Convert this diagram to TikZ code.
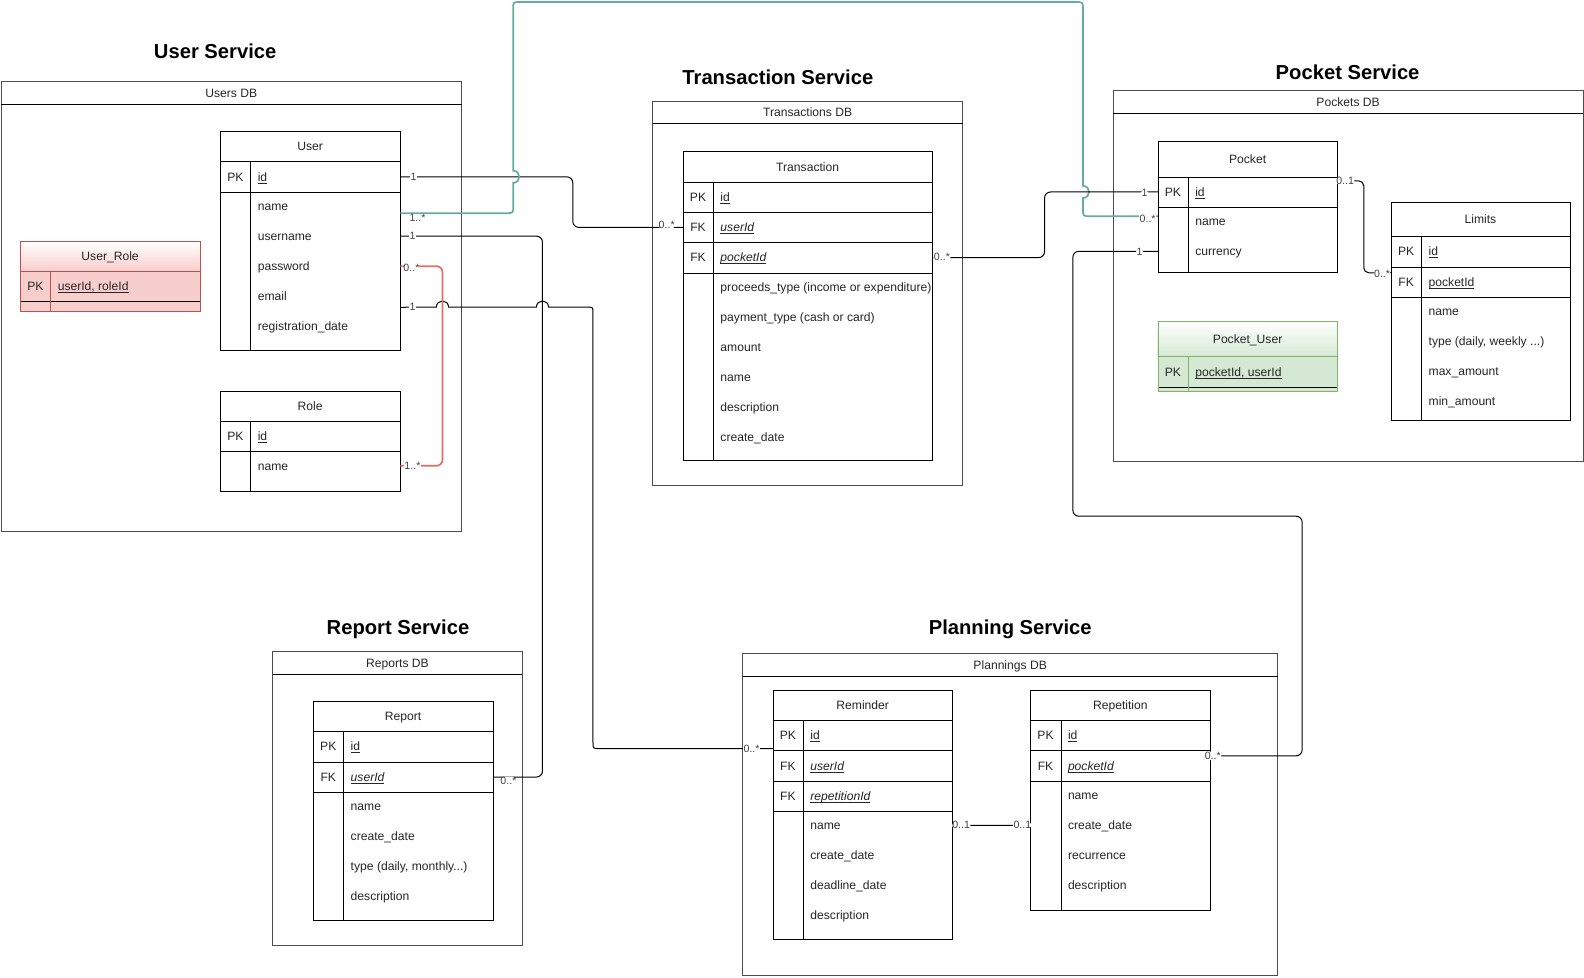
\documentclass[tikz,border=0pt]{standalone}
\usepackage{fontspec}
\setmainfont{Liberation Sans}
\usetikzlibrary{calc}

\definecolor{tealline}{HTML}{67AB9F}
\definecolor{redline}{HTML}{EA6B66}
\definecolor{redfill}{HTML}{F8CECC}
\definecolor{redstroke}{HTML}{B85450}
\definecolor{greenfill}{HTML}{D5E8D4}
\definecolor{greenstroke}{HTML}{82B366}

\newcommand{\keyul}[1]{\setbox0=\hbox{#1}\rlap{\rule[-2pt]{\wd0}{0.6pt}}\box0}
\newcommand{\fkey}[1]{\keyul{\itshape #1}}
\newcommand{\tdots}{...}

\tikzset{
  tbltext/.style={font=\fontsize{12}{14}\selectfont, text=black!85, inner sep=0pt, text height=8.6pt, text depth=0pt},
  tbltitle/.style={tbltext},
  keytxt/.style={tbltext},
  valtxt/.style={tbltext, anchor=west},
  tblrow/.style={inner sep=0pt, minimum height=30pt},
  tblfill/.style={fill=white},
  tblshade/.style={},
  tblline/.style={draw=black},
  sepline/.style={draw=black},
  dbline/.style={draw=black!70, line width=1pt},
  dbsep/.style={draw=black, line width=0.8pt},
  dbtitle/.style={tbltext},
  svctitle/.style={font=\bfseries\fontsize{20}{24}\selectfont, inner sep=0pt, text height=14.4pt, text depth=0pt},
  conn/.style={draw=black, line width=1pt, rounded corners=6pt},
  tealconn/.style={draw=tealline, line width=1.7pt},
  redconn/.style={draw=redline, line width=1.7pt, rounded corners=6pt},
  mult/.style={font=\fontsize{10.5}{12}\selectfont, text=black!75, fill=white, inner sep=0.5pt, text height=7pt, text depth=0.5pt}
}

% table: name, x, y, width, header height, height, title, key rows, fields
\newcommand{\ertable}[9]{%
  \begin{scope}[shift={(#2,#3)}]
    \path[tblfill] (0,0) rectangle (#4,#6);
    \path[tblshade] (0,0) rectangle (#4,#5);
    \node[tbltitle] (#1) at (#4/2,#5/2) {#7};
    \gdef\nkeys{0}
    \foreach \kname/\fname [count=\rowno] in {#8} {
      \node[tblrow, minimum width=#4pt] (#1-k\rowno) at (#4/2,#5+30*\rowno-15) {};
      \node[keytxt] (#1-k\rowno-key) at (15,#5+30*\rowno-15) {\kname};
      \node[valtxt] (#1-k\rowno-val) at (37,#5+30*\rowno-15) {\fname};
      \draw[sepline] (0,#5+30*\rowno) -- (#4,#5+30*\rowno);
      \xdef\nkeys{\rowno}
    }
    \def\erfields{#9}
    \ifx\erfields\empty\else
    \foreach \fname [count=\fldno] in {#9} {
      \node[tblrow, minimum width=#4pt] (#1-f\fldno) at (#4/2,#5+30*\nkeys+14+29.7*\fldno-29.7) {};
      \node[valtxt] (#1-f\fldno-val) at (37,#5+30*\nkeys+14+29.7*\fldno-29.7) {\fname};
    }
    \fi
    \draw[tblline] (30,#5) -- (30,#6);
    \draw[tblline] (0,#5) -- (#4,#5);
    \draw[tblline] (0,0) rectangle (#4,#6);
  \end{scope}}

% database box: name, x, y, width, height, title
\newcommand{\dbbox}[6]{%
  \draw[dbline] (#2,#3) rectangle (#2+#4,#3+#5);
  \draw[dbsep] (#2,#3+22.5) -- (#2+#4,#3+22.5);
  \node[dbtitle] (#1) at (#2+#4/2,#3+11.25) {#6};}

\begin{document}
\begin{tikzpicture}[x=1pt, y=-1pt, scale=1.0102, transform shape]
\useasboundingbox (0,0) rectangle (1568,967.2);

% services
\node[svctitle] (usersvc) at (213,51) {User Service};
\node[svctitle] (transsvc) at (770,76) {Transaction Service};
\node[svctitle] (pocketsvc) at (1334,71) {Pocket Service};
\node[svctitle] (reportsvc) at (394,621) {Report Service};
\node[svctitle] (plansvc) at (1000,621) {Planning Service};

\dbbox{usersdb}{1}{81}{456}{445}{Users DB}
\dbbox{transdb}{646}{100}{307}{381}{Transactions DB}
\dbbox{pocketsdb}{1102}{90}{465}{367}{Pockets DB}
\dbbox{reportsdb}{270}{645}{247}{291}{Reports DB}
\dbbox{plandb}{735}{647}{530}{319}{Plannings DB}

% tables
\ertable{user}{218}{130}{178}{30}{217}{User}{PK/\keyul{id}}{name,username,password,email,registration\_date}
\begin{scope}[tblfill/.style={fill=redfill}, tblshade/.style={top color=white, bottom color=redfill}, tblline/.style={draw=redstroke}]
\ertable{userrole}{20}{239}{178}{29}{69}{User\_Role}{PK/\keyul{userId, roleId}}{}
\end{scope}
\ertable{role}{218}{387}{178}{30}{99}{Role}{PK/\keyul{id}}{name}
\ertable{trans}{676}{150}{247}{30}{306}{Transaction}{PK/\keyul{id},FK/\fkey{userId},FK/\fkey{pocketId}}{proceeds\_type (income or expenditure),payment\_type (cash or card),amount,name,description,create\_date}
\ertable{pocket}{1146}{140}{178}{35}{129}{Pocket}{PK/\keyul{id}}{name,currency}
\begin{scope}[tblfill/.style={fill=greenfill}, tblshade/.style={top color=white, bottom color=greenfill}, tblline/.style={draw=greenstroke}]
\ertable{pocketuser}{1146}{318}{178}{35}{69}{Pocket\_User}{PK/\keyul{pocketId, userId}}{}
\end{scope}
\ertable{limits}{1377}{200}{177}{34}{216}{Limits}{PK/\keyul{id},FK/\keyul{pocketId}}{name,{type (daily, weekly \tdots)},max\_amount,min\_amount}
\ertable{report}{310}{694}{178}{30}{217}{Report}{PK/\keyul{id},FK/\fkey{userId}}{name,create\_date,{type (daily, monthly\tdots)},description}
\ertable{reminder}{765}{683}{178}{30}{247}{Reminder}{PK/\keyul{id},FK/\fkey{userId},FK/\fkey{repetitionId}}{name,create\_date,deadline\_date,description}
\ertable{repetition}{1020}{683}{178}{30}{218}{Repetition}{PK/\keyul{id},FK/\fkey{pocketId}}{name,create\_date,recurrence,description}

% relations
\draw[conn] (user-k1.east) node[mult, xshift=13pt] (a1) {1} -| (567,200) |- (trans-k2.west) node[mult, xshift=-16pt, yshift=2pt] (a2) {0..*};
\draw[tealconn] ($(user-f1.east)+(0,7)$) node[mult, xshift=17pt, yshift=-5pt] (b1) {1..*}
  -- (501,211) .. controls (508,211) .. (508,204)
  -- (508,181) .. controls (516,181) and (516,169) .. (508,169)
  -- (508,9) .. controls (508,2) .. (515,2)
  -- (1065,2) .. controls (1072,2) .. (1072,9)
  -- (1072,184) .. controls (1080,184) and (1080,196) .. (1072,196)
  -- (1072,207) .. controls (1072,214) .. (1079,214)
  -- ($(pocket-f1.west)+(0,-5)$) node[mult, xshift=-10pt, yshift=-3pt] (b2) {0..*};
\draw[conn] (user-f2.east) node[mult, xshift=12pt] (c1) {1} -| (537,500) |- (report-k2.east) node[mult, xshift=15pt, yshift=-4pt] (c2) {0..*};
\draw[conn, sharp corners] ($(user-f4.east)+(0,11)$) node[mult, xshift=12pt] (d1) {1}
  -- (432,304) .. controls (432,296) and (444,296) .. (444,304)
  -- (531,304) .. controls (531,296) and (543,296) .. (543,304)
  -- (581,304) .. controls (587,304) .. (587,310)
  -- (587,735) .. controls (587,741) .. (593,741)
  -- ($(reminder-k1.west)+(0,13)$) node[mult, xshift=-21pt] (d2) {0..*};
\draw[redconn] (user-f3.east) node[mult, xshift=11pt, yshift=-2pt] (e1) {0..*} -| (438,360) |- (role-f1.east) node[mult, xshift=12pt] (e2) {1..*};
\draw[conn] (trans-k3.east) node[mult, xshift=9pt] (f1) {0..*} -| (1034,220) |- (pocket-k1.west) node[mult, xshift=-13pt, yshift=-1pt] (f2) {1};
\draw[conn] (pocket-f2.west) node[mult, xshift=-18pt, yshift=-1pt] (g1) {1} -| (1062,511) -| (1289,600) |- ($(repetition-k2.east)+(0,-10)$) node[mult, xshift=2pt] (g2) {0..*};
\draw[conn, rounded corners=5pt] ($(pocket-k1.east)+(0,-11)$) node[mult, xshift=7pt] (h1) {0..1} -| (1350,230) |- ($(limits-k2.west)+(0,-9)$) node[mult, xshift=-9pt, yshift=-1pt] (h2) {0..*};
\draw[conn] (reminder-f1.east) node[mult, xshift=8pt] (i1) {0..1} -- (repetition-f2.west) node[mult, xshift=-8pt] (i2) {0..1};
\end{tikzpicture}
\end{document}
